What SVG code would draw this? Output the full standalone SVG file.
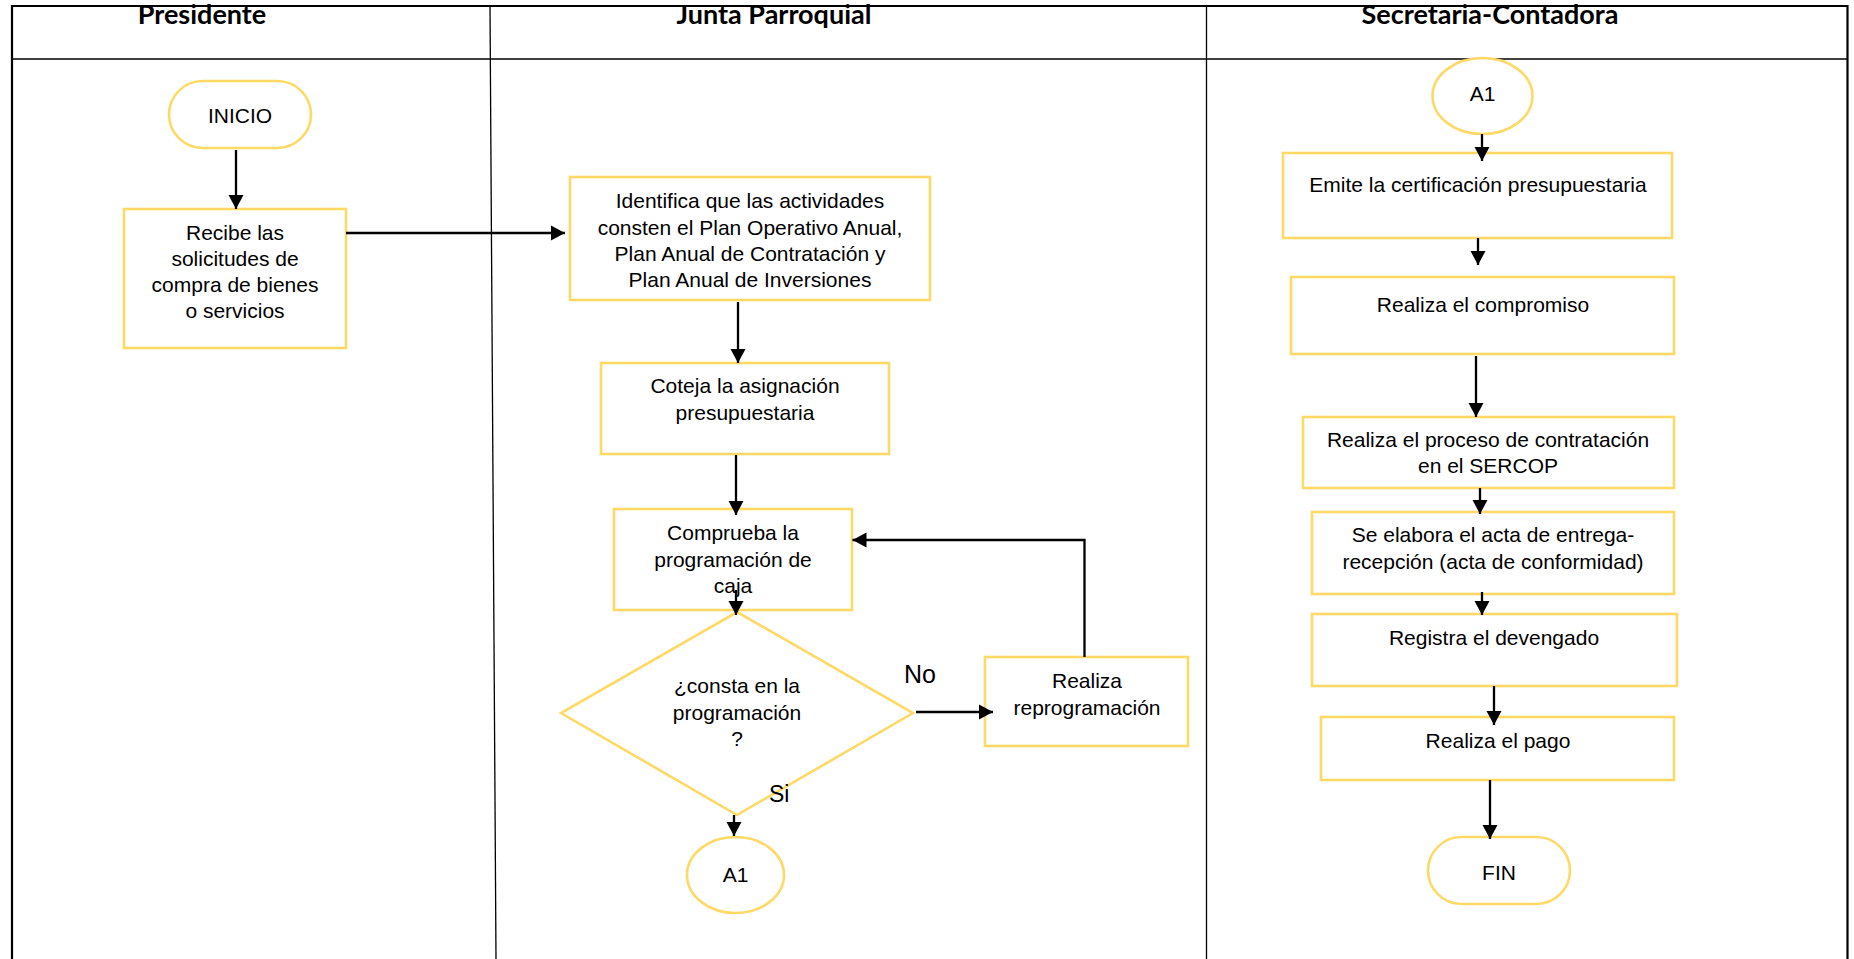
<svg xmlns="http://www.w3.org/2000/svg" width="1854" height="959" viewBox="0 0 1854 959">
<style>
  .lane{stroke:#000;fill:none}
  .node{fill:#fff;stroke:#FFD966;stroke-width:2.6}
  .t{font-family:"Liberation Sans",Arial,sans-serif;font-size:21px;fill:#000;text-anchor:middle}
  .h{font-family:Lato,"Open Sans",sans-serif;font-weight:700;font-size:27px;fill:#000;text-anchor:middle}
  .lbl{font-family:"Liberation Sans",Arial,sans-serif;fill:#000}
  .c{stroke:#000;stroke-width:2.3;fill:none;marker-end:url(#ah)}
</style>
<defs>
  <marker id="ah" markerUnits="userSpaceOnUse" markerWidth="15" markerHeight="16" refX="14" refY="8" orient="auto">
    <path d="M0,0.5 L14,8 L0,15.5 z" fill="#000"/>
  </marker>
</defs>
<rect x="0" y="0" width="1854" height="959" fill="#fff"/>

<g id="headers">
  <text class="h" x="202" y="24">Presidente</text>
  <text class="h" x="774" y="24">Junta Parroquial</text>
  <text class="h" x="1490" y="24">Secretaria-Contadora</text>
</g>

<g id="lanes">
  <line class="lane" x1="12" y1="6" x2="1848" y2="6" stroke-width="2.2"/>
  <line class="lane" x1="12" y1="5" x2="12" y2="959" stroke-width="2.2"/>
  <line class="lane" x1="1847.5" y1="5" x2="1847.5" y2="959" stroke-width="2.2"/>
  <line class="lane" x1="12" y1="59" x2="1848" y2="59" stroke-width="1.3"/>
  <line class="lane" x1="490" y1="6" x2="496" y2="959" stroke-width="1.3"/>
  <line class="lane" x1="1206.5" y1="6" x2="1206.5" y2="959" stroke-width="1.3"/>
</g>

<g id="n-inicio">
  <rect class="node" x="169" y="81" width="142" height="67" rx="33.5"/>
  <text class="t" x="240" y="123">INICIO</text>
</g>
<g id="n-recibe">
  <rect class="node" x="124" y="209" width="222" height="139"/>
  <text class="t" x="235" y="240">Recibe las</text>
  <text class="t" x="235" y="266">solicitudes de</text>
  <text class="t" x="235" y="292">compra de bienes</text>
  <text class="t" x="235" y="318">o servicios</text>
</g>
<g id="n-identifica">
  <rect class="node" x="570" y="177" width="360" height="123"/>
  <text class="t" x="750" y="208">Identifica que las actividades</text>
  <text class="t" x="750" y="235">consten el Plan Operativo Anual,</text>
  <text class="t" x="750" y="261">Plan Anual de Contratación y</text>
  <text class="t" x="750" y="287">Plan Anual de Inversiones</text>
</g>
<g id="n-coteja">
  <rect class="node" x="601" y="363" width="288" height="91"/>
  <text class="t" x="745" y="393">Coteja la asignación</text>
  <text class="t" x="745" y="420">presupuestaria</text>
</g>
<g id="n-comprueba">
  <rect class="node" x="614" y="509" width="238" height="101"/>
  <text class="t" x="733" y="540">Comprueba la</text>
  <text class="t" x="733" y="567">programación de</text>
  <text class="t" x="733" y="593">caja</text>
</g>
<g id="n-decision">
  <polygon class="node" points="737,612 913,713 737,815 561,713" stroke-width="2.2"/>
  <text class="t" x="737" y="693">¿consta en la</text>
  <text class="t" x="737" y="720">programación</text>
  <text class="t" x="737" y="746">?</text>
</g>
<g id="n-reprog">
  <rect class="node" x="985" y="657" width="203" height="89"/>
  <text class="t" x="1087" y="688">Realiza</text>
  <text class="t" x="1087" y="715">reprogramación</text>
</g>
<g id="n-a1-out">
  <ellipse class="node" cx="735.5" cy="875" rx="48.5" ry="38"/>
  <text class="t" x="735.5" y="882">A1</text>
</g>
<g id="n-a1-in">
  <ellipse class="node" cx="1482.5" cy="96" rx="50" ry="38"/>
  <text class="t" x="1482.5" y="101">A1</text>
</g>
<g id="n-emite">
  <rect class="node" x="1283" y="153" width="389" height="85"/>
  <text class="t" x="1478" y="192">Emite la certificación presupuestaria</text>
</g>
<g id="n-compromiso">
  <rect class="node" x="1291" y="277" width="383" height="77"/>
  <text class="t" x="1483" y="312">Realiza el compromiso</text>
</g>
<g id="n-contratacion">
  <rect class="node" x="1303" y="417" width="371" height="71"/>
  <text class="t" x="1488" y="447">Realiza el proceso de contratación</text>
  <text class="t" x="1488" y="473">en el SERCOP</text>
</g>
<g id="n-acta">
  <rect class="node" x="1312" y="512" width="362" height="82"/>
  <text class="t" x="1493" y="542">Se elabora el acta de entrega-</text>
  <text class="t" x="1493" y="569">recepción (acta de conformidad)</text>
</g>
<g id="n-devengado">
  <rect class="node" x="1312" y="614" width="365" height="72"/>
  <text class="t" x="1494" y="645">Registra el devengado</text>
</g>
<g id="n-pago">
  <rect class="node" x="1321" y="717" width="353" height="63"/>
  <text class="t" x="1498" y="748">Realiza el pago</text>
</g>
<g id="n-fin">
  <rect class="node" x="1428" y="837" width="142" height="67" rx="33.5"/>
  <text class="t" x="1499" y="880" font-size="23">FIN</text>
</g>

<g id="connectors">
  <line class="c" x1="236" y1="150" x2="236" y2="209"/>
  <line class="c" x1="346" y1="233" x2="565" y2="233"/>
  <line class="c" x1="738" y1="302" x2="738" y2="363"/>
  <line class="c" x1="736" y1="455" x2="736" y2="515"/>
  <line class="c" x1="736" y1="590" x2="736" y2="615"/>
  <line class="c" x1="916" y1="712" x2="993" y2="712"/>
  <polyline class="c" points="1084.5,657 1084.5,540 852.5,540"/>
  <line class="c" x1="734" y1="815" x2="734" y2="836"/>
  <line class="c" x1="1482" y1="134" x2="1482" y2="161"/>
  <line class="c" x1="1478" y1="238" x2="1478" y2="265"/>
  <line class="c" x1="1476" y1="356" x2="1476" y2="417"/>
  <line class="c" x1="1480" y1="488" x2="1480" y2="514"/>
  <line class="c" x1="1482" y1="592" x2="1482" y2="615"/>
  <line class="c" x1="1494" y1="686" x2="1494" y2="725"/>
  <line class="c" x1="1490" y1="780" x2="1490" y2="839"/>
  <text class="lbl" x="904" y="683" font-size="25">No</text>
  <text class="lbl" x="769" y="802" font-size="23">Si</text>
</g>
</svg>
